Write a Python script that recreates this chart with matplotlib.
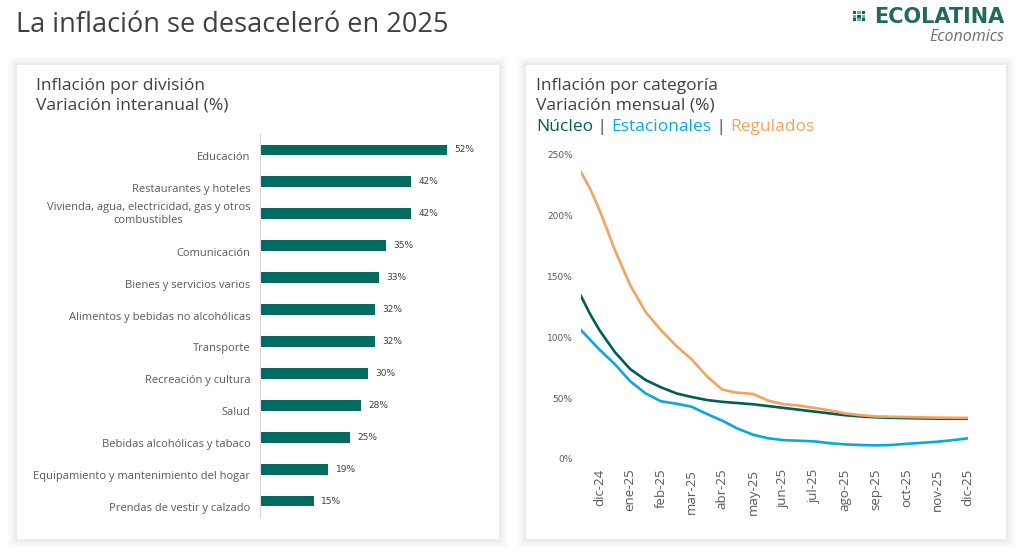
import numpy as np
import matplotlib.pyplot as plt
from matplotlib.patches import Rectangle
from matplotlib.transforms import ScaledTranslation

# Data

divisiones = ['Educación', 'Restaurantes y hoteles',
              'Vivienda, agua, electricidad, gas y otros\ncombustibles',
              'Comunicación', 'Bienes y servicios varios',
              'Alimentos y bebidas no alcohólicas', 'Transporte',
              'Recreación y cultura', 'Salud', 'Bebidas alcohólicas y tabaco',
              'Equipamiento y mantenimiento del hogar',
              'Prendas de vestir y calzado']
interanual = [52, 42, 42, 35, 33, 32, 32, 30, 28, 25, 19, 15]

meses = ['dic-24', 'ene-25', 'feb-25', 'mar-25', 'abr-25', 'may-25', 'jun-25',
         'jul-25', 'ago-25', 'sep-25', 'oct-25', 'nov-25', 'dic-25']
# time in months from dic-24 (half-month readings)
t = [-0.6, -0.3, 0, 0.5, 1, 1.5, 2, 2.5, 3, 3.5, 4, 4.5, 5, 5.5, 6, 6.5, 7,
     7.5, 8, 8.5, 9, 9.5, 10, 10.5, 11, 11.5, 12]
nucleo = [134, 119, 106, 88, 74, 65, 59, 54, 51, 48.5, 47, 46, 45, 43.5, 42,
          40.5, 39, 37.5, 36, 35, 34.3, 33.9, 33.6, 33.4, 33.2, 33.1, 33.1]
estacionales = [106, 98, 90, 78, 64, 54, 47.5, 45.5, 43, 37, 31.5, 25, 20, 17,
                15.5, 15, 14.5, 13, 12, 11.5, 11.2, 11.5, 12.5, 13.3, 14.2,
                15.5, 17]
regulados = [236, 222, 205, 172, 143, 121, 106, 93, 82, 68, 57, 54.5, 53.5, 48,
             45, 44, 42, 40, 37.5, 36, 35, 34.8, 34.5, 34.3, 34, 33.9, 33.8]

# Colours
verde = '#006B5F'
c_nuc = '#005E54'
c_est = '#0AA8E0'
c_reg = '#F2A45E'
gris = '#595959'

plt.rcParams['font.family'] = ['Open Sans', 'DejaVu Sans']

W, H = 1025, 560
fig = plt.figure(figsize=(W/100, H/100), dpi=100)
fig.patch.set_facecolor('white')


def fx(px):
    return px/W


def fy(py):
    return 1 - py/H


def card(x0, y0, x1, y1):
    # soft shadow
    for k, a in zip([10, 8, 6, 4, 2], [0.008, 0.012, 0.016, 0.02, 0.025]):
        fig.patches.append(Rectangle((fx(x0-k), fy(y1+k)), fx(x1-x0+2*k), (y1-y0+2*k)/H,
                                     transform=fig.transFigure, facecolor='black',
                                     edgecolor='none', alpha=a, zorder=-10))
    fig.patches.append(Rectangle((fx(x0), fy(y1)), fx(x1-x0), (y1-y0)/H,
                                 transform=fig.transFigure, facecolor='white',
                                 edgecolor='none', zorder=-5))


card(17, 65, 499, 539)
card(526, 65, 1006, 539)

# Titles
fig.text(fx(16), fy(25), 'La inflación se desaceleró en 2025', fontsize=19.5,
         color='#404040', va='center', ha='left')

# logo
for i in range(3):
    for j in range(3):
        fig.patches.append(Rectangle((fx(853+i*4.3), fy(11+j*3.6+3)), fx(3.2), 3.0/H,
                                     transform=fig.transFigure, facecolor=verde,
                                     edgecolor='none', alpha=1 if (i+j) % 2 == 0 else 0.55))
fig.text(fx(1004), fy(17), 'ECOLATINA', fontsize=15, fontweight='bold',
         color='#1E6B5E', ha='right', va='center', family='DejaVu Sans')
fig.text(fx(1004), fy(37), 'Economics', fontsize=11.5, style='italic',
         color='#6E6E6E', ha='right', va='center')

fig.text(fx(36), fy(86), 'Inflación por división', fontsize=12.5, color='#404040', va='center')
fig.text(fx(36), fy(106), 'Variación interanual (%)', fontsize=12.5, color='#404040', va='center')
fig.text(fx(536), fy(86), 'Inflación por categoría', fontsize=12.5, color='#404040', va='center')
fig.text(fx(536), fy(106), 'Variación mensual (%)', fontsize=12.5, color='#404040', va='center')

# coloured legend line
renderer = fig.canvas.get_renderer()
xpos = 536
pieces = [('Núcleo', c_nuc), (' | ', '#404040'), ('Estacionales', c_est),
          (' | ', '#404040'), ('Regulados', c_reg)]
for txt, col in pieces:
    tt = fig.text(fx(xpos), fy(127), txt, fontsize=12.5, color=col, va='center')
    xpos += tt.get_window_extent(renderer).width

# Left chart: bars
ax1 = fig.add_axes([fx(260), fy(517), fx(476-260), (517-134)/H])
y = np.arange(len(divisiones))
ax1.barh(y, interanual, height=0.34, color=verde)
ax1.set_xlim(0, 60)
ax1.set_ylim(len(divisiones)-0.5, -0.5)
for yi, v in zip(y, interanual):
    ax1.text(v + 2, yi, f'{v}%', fontsize=6.5, color='#404040', va='center',
             family='DejaVu Sans')
ax1.set_yticks([])
ax1.set_xticks([])
for s in ['top', 'right', 'bottom']:
    ax1.spines[s].set_visible(False)
ax1.spines['left'].set_color('#D9D9D9')
ax1.patch.set_alpha(0)
for yi, lab in zip(y, divisiones):
    off = 0 if '\n' in lab else 7.5
    ax1.text(-0.045, yi, lab, fontsize=8, color=gris, ha='right', va='center',
             multialignment='center', linespacing=1.3,
             transform=ax1.get_yaxis_transform() + ScaledTranslation(0, -off/100, fig.dpi_scale_trans))

# Right chart: lines
ax2 = fig.add_axes([fx(581), fy(459), fx(968-581), (459-155)/H])
ax2.plot(t, nucleo, color=c_nuc, lw=1.9, solid_joinstyle='round')
ax2.plot(t, estacionales, color=c_est, lw=1.9, solid_joinstyle='round')
ax2.plot(t, regulados, color=c_reg, lw=1.9, solid_joinstyle='round')
ax2.set_xlim(-0.6, 12)
ax2.set_ylim(0, 250)
ax2.set_yticks([0, 50, 100, 150, 200, 250])
ax2.set_yticklabels(['0%', '50%', '100%', '150%', '200%', '250%'],
                    fontsize=6.5, color=gris, family='DejaVu Sans')
ax2.set_xticks(range(len(meses)))
ax2.set_xticklabels(meses, rotation=90, fontsize=9.5, color=gris)
ax2.tick_params(length=0)
ax2.tick_params(axis='y', pad=6)
ax2.tick_params(axis='x', pad=7)
for s in ax2.spines.values():
    s.set_visible(False)
ax2.patch.set_alpha(0)

fig.savefig('out.png', dpi=100)
